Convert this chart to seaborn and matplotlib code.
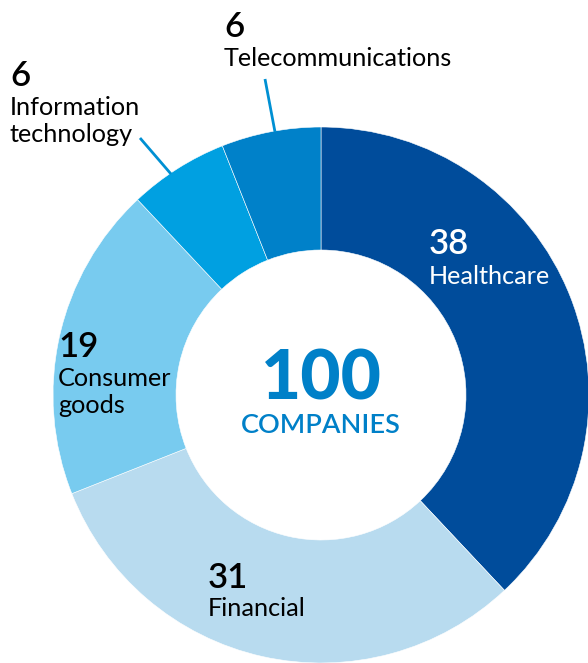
import matplotlib
matplotlib.use("Agg")
import matplotlib.pyplot as plt
import seaborn as sns

# Sector breakdown of the 100 companies, clockwise from 12 o'clock
sectors = ["Healthcare", "Financial", "Consumer goods",
           "Information technology", "Telecommunications"]
counts = [38, 31, 19, 6, 6]
colors = ["#004C9B", "#B8DBEF", "#78CBEF", "#00A0E1", "#0081C9"]
total_value = "100"
total_label = "COMPANIES"

sns.set_theme(style="white")
plt.rcParams["font.family"] = ["Lato", "DejaVu Sans"]

W, H = 588, 663
fig = plt.figure(figsize=(W / 100, H / 100), dpi=100)
ax = fig.add_axes([0, 0, 1, 1])
ax.set_aspect("equal")

cx, cy = 321, H - 395
r_out = 268
ring = 123

ax.pie(counts, colors=sns.color_palette(colors), startangle=90, counterclock=False,
       center=(cx, cy), radius=r_out, frame=True,
       wedgeprops=dict(width=ring, edgecolor="white", linewidth=0.4))
ax.set_xlim(0, W)
ax.set_ylim(0, H)
ax.axis("off")


def Y(y):
    return H - y


num_kw = dict(fontsize=25, fontweight="semibold", va="baseline", ha="left")
lab_kw = dict(fontsize=18.2, fontweight="normal", va="baseline", ha="left")

# Healthcare (inside the dark wedge, white text)
ax.text(429, Y(254), str(counts[0]), color="white", **num_kw)
ax.text(429, Y(284), sectors[0], color="white", **lab_kw)

# Financial
ax.text(208, Y(588), str(counts[1]), color="black", **num_kw)
ax.text(208, Y(616), sectors[1], color="black", **lab_kw)

# Consumer goods
ax.text(58, Y(357), str(counts[2]), color="black", **num_kw)
ax.text(58, Y(386), "Consumer", color="black", **lab_kw)
ax.text(58, Y(413), "goods", color="black", **lab_kw)

# Information technology (outside, with leader)
ax.text(10, Y(86), str(counts[3]), color="black", **num_kw)
ax.text(10, Y(115), "Information", color="black", **lab_kw)
ax.text(10, Y(142), "technology", color="black", **lab_kw)
ax.plot([140, 171], [Y(138), Y(174)], color="#0090D3", lw=2, solid_capstyle="butt")

# Telecommunications (outside, with leader)
ax.text(224, Y(37), str(counts[4]), color="black", **num_kw)
ax.text(224, Y(66), sectors[4], color="black", **lab_kw)
ax.plot([265, 275], [Y(79), Y(132)], color="#0090D3", lw=2, solid_capstyle="butt")

# Centre total
ax.text(cx, Y(400), total_value, color="#0080C8", fontsize=50, fontweight="black",
        ha="center", va="baseline")
ax.text(cx, Y(433), total_label, color="#0080C8", fontsize=19.5, fontweight="semibold",
        ha="center", va="baseline")

fig.savefig("out.png", dpi=100)
